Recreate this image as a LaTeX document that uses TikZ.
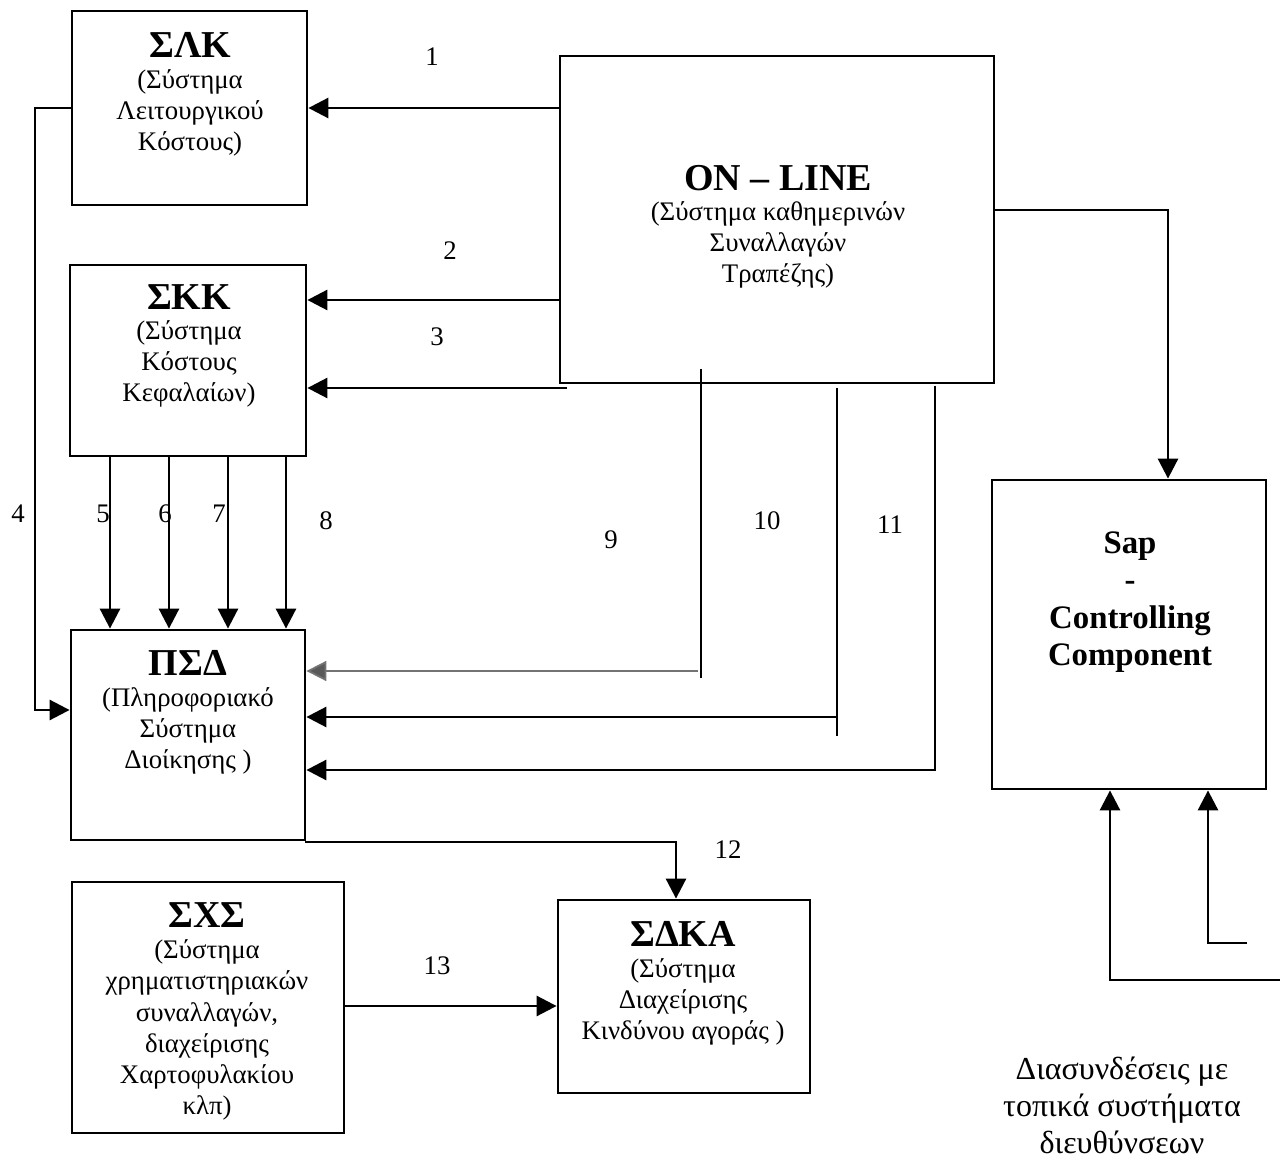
\documentclass[tikz,border=0pt]{standalone}
\usepackage{fontspec}
\setmainfont{Liberation Serif}
\usetikzlibrary{arrows.meta,fit}
\tikzset{
  box/.style={draw, line width=1.4pt, inner sep=0pt},
  ttl/.style={font=\fontsize{19}{22}\selectfont\bfseries, inner sep=0pt},
  body/.style={font=\fontsize{13.4}{15.6}\selectfont, align=center, inner sep=0pt},
  sapt/.style={font=\fontsize{16.4}{18.7}\selectfont\bfseries, align=center, inner sep=0pt},
  lbl/.style={font=\fontsize{13.4}{15}\selectfont, inner sep=0pt},
  ln/.style={line width=1.4pt},
  arr/.style={line width=1.4pt, -{Triangle[length=10pt,width=10pt]}},
  faint/.style={line width=0.9pt, draw=black!55, -{Triangle[length=10pt,width=10pt,fill=black!65]}}
}
\begin{document}
\begin{tikzpicture}[x=0.5pt,y=-0.5pt]
\useasboundingbox (0,0) rectangle (1280,1160);
% boxes
\node[box, fit={(72,11) (307,205)}] (slk) {};
\node[box, fit={(560,56) (994,383)}] (online) {};
\node[box, fit={(70,265) (306,456)}] (skk) {};
\node[box, fit={(71,630) (305,840)}] (psd) {};
\node[box, fit={(72,882) (344,1133)}] (sxs) {};
\node[box, fit={(558,900) (810,1093)}] (sdka) {};
\node[box, fit={(992,480) (1266,789)}] (sap) {};
% texts
\node[ttl] (slkT) at (190,45) {ΣΛΚ};
\node[body] (slkB) at (190,113) {(Σύστημα\\Λειτουργικού\\Κόστους)};
\node[ttl] (onlineT) at (778,178) {ON – LINE};
\node[body] (onlineB) at (778,245) {(Σύστημα καθημερινών\\Συναλλαγών\\Τραπέζης)};
\node[ttl] (skkT) at (189,297) {ΣΚΚ};
\node[body] (skkB) at (189,364) {(Σύστημα\\Κόστους\\Κεφαλαίων)};
\node[ttl] (psdT) at (188,663) {ΠΣΔ};
\node[body] (psdB) at (188,731) {(Πληροφοριακό\\Σύστημα\\Διοίκησης )};
\node[ttl] (sxsT) at (207,915) {ΣΧΣ};
\node[body] (sxsB) at (207,1030) {(Σύστημα\\χρηματιστηριακών\\συναλλαγών,\\διαχείρισης\\Χαρτοφυλακίου\\κλπ)};
\node[ttl] (sdkaT) at (683,934) {ΣΔΚΑ};
\node[body] (sdkaB) at (683,1002) {(Σύστημα\\Διαχείρισης\\Κινδύνου αγοράς )};
\node[sapt] (sapT) at (1130,602) {Sap\\-\\Controlling\\Component};
\node[font=\fontsize{16}{18.5}\selectfont, align=center, inner sep=0pt] (note) at (1122,1105) {Διασυνδέσεις με\\τοπικά συστήματα\\διευθύνσεων};
% labels
\node[lbl] (l1) at (432,57) {1};
\node[lbl] (l2) at (450,251) {2};
\node[lbl] (l3) at (437,337) {3};
\node[lbl] (l4) at (18,514) {4};
\node[lbl] (l5) at (103,514) {5};
\node[lbl] (l6) at (165,514) {6};
\node[lbl] (l7) at (219,514) {7};
\node[lbl] (l8) at (326,521) {8};
\node[lbl] (l9) at (611,540) {9};
\node[lbl] (l10) at (767,521) {10};
\node[lbl] (l11) at (890,525) {11};
\node[lbl] (l12) at (728,850) {12};
\node[lbl] (l13) at (437,966) {13};
% coordinates
\coordinate (y1) at (0,108);
\coordinate (y2) at (0,300);
\coordinate (c3) at (567,388);
\coordinate (k4) at (35,108);
\coordinate (k4b) at (35,710);
\coordinate (c9a) at (701,369);
\coordinate (c9b) at (701,678);
\coordinate (c9h) at (698,671);
\coordinate (c10a) at (837,388);
\coordinate (c10b) at (837,736);
\coordinate (c10h) at (837,717);
\coordinate (c11a) at (935,386);
\coordinate (c11b) at (935,770);
\coordinate (c12) at (676,842);
\coordinate (c13) at (450,1006);
\coordinate (c14) at (1168,210);
\coordinate (e1) at (1247,943);
\coordinate (b1) at (1208,943);
\coordinate (e2) at (1280,980);
\coordinate (b2) at (1110,980);
% connectors
\draw[arr] (online.west |- y1) -- (slk.east |- y1);
\draw[arr] (online.west |- y2) -- (skk.east |- y2);
\draw[arr] (c3) -- (skk.east |- c3);
\draw[arr] (slk.west |- k4) -- (k4) -- (k4b) -- (psd.west |- k4b);
\foreach \xx in {110,169,228,286}
  \draw[arr] (skk.south -| \xx,0) -- (psd.north -| \xx,0);
\draw[ln] (c9a) -- (c9b);
\draw[faint] (c9h) -- (psd.east |- c9h);
\draw[ln] (c10a) -- (c10b);
\draw[arr] (c10h) -- (psd.east |- c10h);
\draw[arr] (c11a) -- (c11b) -- (psd.east |- c11b);
\draw[arr] (psd.south east) |- (c12) -- (sdka.north -| c12);
\draw[arr] (sxs.east |- c13) -- (sdka.west |- c13);
\draw[arr] (online.east |- c14) -| (sap.north -| c14);
\draw[arr] (e1) -- (b1) -- (sap.south -| b1);
\draw[arr] (e2) -- (b2) -- (sap.south -| b2);
\end{tikzpicture}
\end{document}
